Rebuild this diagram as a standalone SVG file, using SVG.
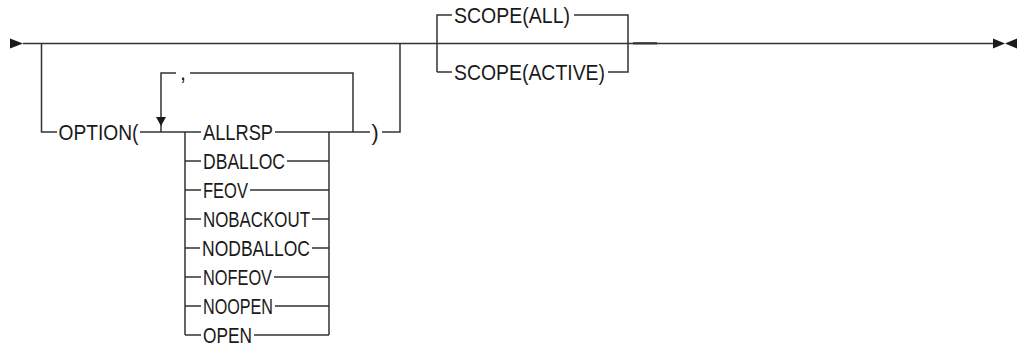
<svg xmlns="http://www.w3.org/2000/svg" width="1017" height="349" viewBox="0 0 1017 349">
<style>
.ln{stroke:#333;stroke-width:1.5;fill:none}
.ar{fill:#1a1a1a}
.t{font-family:"Liberation Sans",Arial,sans-serif;font-size:21.5px;fill:#1a1a1a}
</style>
<rect width="1017" height="349" fill="#fff"/>
<g id="connectors">
<path class="ln" d="M23 43.5H993"/>
<path class="ln" d="M41.5 43.5V132H57"/>
<path class="ln" d="M140 132H185"/>
<path class="ln" d="M161 132V73H176M190 73H353V132"/>
<path class="ln" d="M185 132V335M329 132V335"/>
<path class="ln" d="M185 132H201M275 132H329"/>
<path class="ln" d="M185 161H201M287 161H329"/>
<path class="ln" d="M185 190H201M250 190H329"/>
<path class="ln" d="M185 219H201M312 219H329"/>
<path class="ln" d="M185 248H200M312 248H329"/>
<path class="ln" d="M185 277H201M274 277H329"/>
<path class="ln" d="M185 306H201M275 306H329"/>
<path class="ln" d="M185 335H201M254 335H329"/>
<path class="ln" d="M329 132H370M382 132H400V43.5"/>
<path class="ln" d="M437 72V15H452M574 15H628V72H608M452 72H437"/>
<path class="ln" style="stroke-width:2.2" d="M633 43.3H657"/>
<polygon class="ar" points="10,38.5 23,43.5 10,48.5"/>
<polygon class="ar" points="156,117 166,117 161,126"/>
<polygon class="ar" points="993,38.5 1005,43.5 993,48.5"/>
<polygon class="ar" points="1017,38.5 1005,43.5 1017,48.5"/>
</g>
<g id="option"><text class="t" x="58.5" y="139.5" textLength="80" lengthAdjust="spacingAndGlyphs">OPTION(</text></g>
<g id="comma"><text class="t" x="180" y="80">,</text></g>
<g id="close"><text class="t" x="371.5" y="139.5">)</text></g>
<g id="allrsp"><text class="t" x="203" y="139.5" textLength="70" lengthAdjust="spacingAndGlyphs">ALLRSP</text></g>
<g id="dballoc"><text class="t" x="203" y="168.5" textLength="82" lengthAdjust="spacingAndGlyphs">DBALLOC</text></g>
<g id="feov"><text class="t" x="203" y="197.5" textLength="45" lengthAdjust="spacingAndGlyphs">FEOV</text></g>
<g id="nobackout"><text class="t" x="203" y="226.5" textLength="107" lengthAdjust="spacingAndGlyphs">NOBACKOUT</text></g>
<g id="nodballoc"><text class="t" x="202" y="255.5" textLength="108" lengthAdjust="spacingAndGlyphs">NODBALLOC</text></g>
<g id="nofeov"><text class="t" x="203" y="284.5" textLength="69" lengthAdjust="spacingAndGlyphs">NOFEOV</text></g>
<g id="noopen"><text class="t" x="203" y="313.5" textLength="70" lengthAdjust="spacingAndGlyphs">NOOPEN</text></g>
<g id="open"><text class="t" x="203" y="342.5" textLength="49" lengthAdjust="spacingAndGlyphs">OPEN</text></g>
<g id="scope-all"><text class="t" x="454" y="22.5" textLength="116" lengthAdjust="spacingAndGlyphs">SCOPE(ALL)</text></g>
<g id="scope-active"><text class="t" x="454" y="79.5" textLength="151" lengthAdjust="spacingAndGlyphs">SCOPE(ACTIVE)</text></g>
</svg>
